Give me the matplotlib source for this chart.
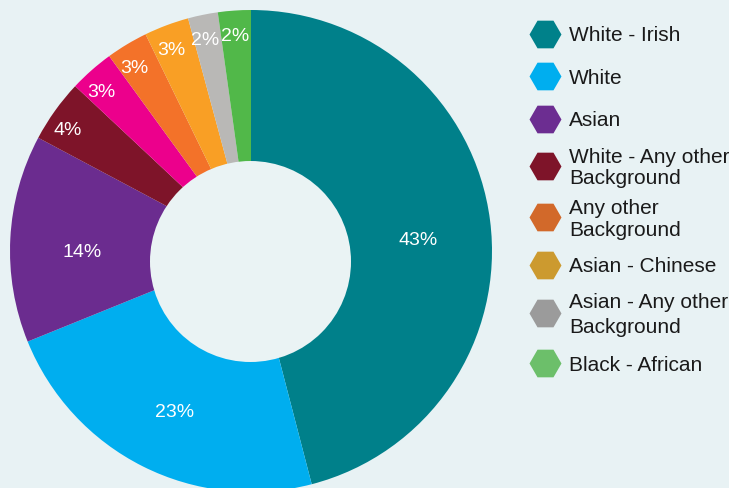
import matplotlib
matplotlib.use("Agg")
import matplotlib.pyplot as plt
from matplotlib.patches import Circle
import numpy as np

# ---- data ----
slice_values = [45.9, 22.9, 13.9, 4.2, 3.0, 2.8, 3.0, 2.0, 2.2]
slice_labels = ['43%', '23%', '14%', '4%', '3%', '3%', '3%', '2%', '2%']
slice_colors = ['#00808A', '#00AEEF', '#6B2C8F', '#7E1429', '#EC008C',
                '#F37229', '#F99F25', '#B9B8B6', '#51B849']

legend_labels = ['White - Irish', 'White', 'Asian',
                 'White - Any other\nBackground', 'Any other\nBackground',
                 'Asian - Chinese', 'Asian - Any other\nBackground',
                 'Black - African']
legend_colors = ['#00818A', '#00AEEF', '#6C2D91', '#7E1429', '#D2692A',
                 '#CC9A2F', '#9B9B9B', '#6CBF6A']

BG = '#E8F2F4'
plt.rcParams['font.family'] = ['Liberation Sans', 'DejaVu Sans']

W, H = 729, 488
fig = plt.figure(figsize=(W / 100, H / 100), dpi=100, facecolor=BG)
ax = fig.add_axes([0, 0, 1, 1])
ax.set_facecolor(BG)

R = 241
cx, cy = 251, H - 251
hx, hy, hr = 250.5, H - 261.5, 100.5
wedges, _ = ax.pie(slice_values, colors=slice_colors, startangle=90,
                   counterclock=False, radius=R, center=(cx, cy),
                   wedgeprops=dict(linewidth=0))
# hole
ax.add_patch(Circle((hx, hy), hr, facecolor='#EAF3F4',
                    edgecolor='none', zorder=3))

for w, lab, v in zip(wedges, slice_labels, slice_values):
    ang = np.deg2rad((w.theta1 + w.theta2) / 2)
    r = (0.70 if v > 10 else 0.935) * R
    ax.text(hx + r * np.cos(ang), hy + r * np.sin(ang), lab, color='white',
            fontsize=14, ha='center', va='center', zorder=4)

ax.set_xlim(0, W)
ax.set_ylim(0, H)
ax.set_aspect('equal')
ax.axis('off')

# ---- legend (pixel layout) ----
marker_y = [33.5, 76, 119, 166, 217, 265, 313, 363]
first_baseline = [41, 83.5, 126, 163, 214, 272, 308, 371]
line_gap = [0, 0, 0, 21, 22, 0, 25, 0]
for lab, col, my, b0, gap in zip(legend_labels, legend_colors, marker_y,
                                 first_baseline, line_gap):
    ax.plot([545], [H - my], marker='H', markersize=23, color=col,
            markeredgewidth=0, linestyle='none', zorder=5, clip_on=False)
    for i, ln in enumerate(lab.split('\n')):
        ax.text(569, H - (b0 + i * gap), ln, fontsize=15, color='#1A1A1A',
                ha='left', va='baseline', zorder=5)

fig.savefig('out.png', dpi=100, facecolor=BG)
